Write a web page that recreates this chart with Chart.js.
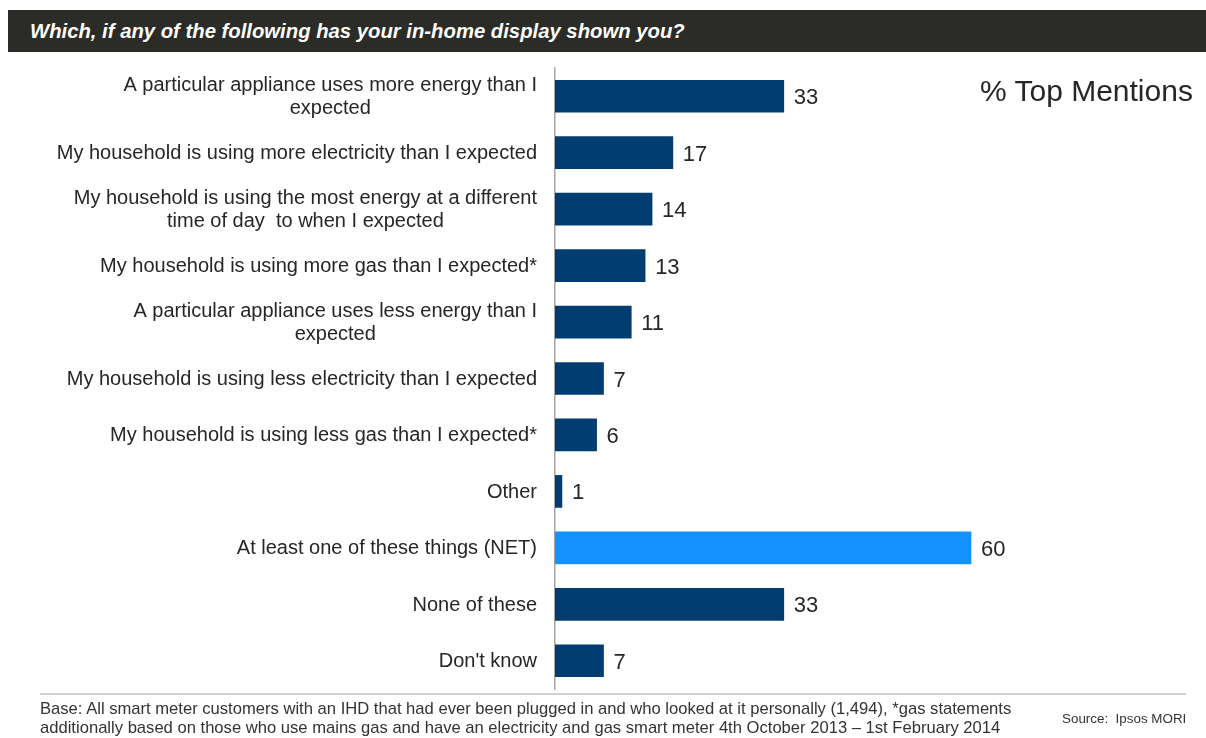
<!DOCTYPE html>
<html>
<head>
<meta charset="utf-8">
<script src="https://cdn.jsdelivr.net/npm/chart.js@4"></script>
<style>
  html, body { margin: 0; padding: 0; background: #fff; }
  #page { position: relative; width: 1206px; height: 738px; overflow: hidden; font-family: 'Liberation Sans', Arial, sans-serif; }
  #header { position: absolute; left: 8px; top: 10px; width: 1198px; height: 42px; background: #2b2b27; }
  #header span { position: absolute; left: 22px; top: 9px; color: #fff; font-weight: bold; font-style: italic; font-size: 20.3px; line-height: 24px; }
  #chart { position: absolute; left: 0; top: 0; }
  #mentions { position: absolute; left: 980px; top: 74px; font-size: 30px; color: #262626; }
  #rule { position: absolute; left: 40px; top: 693px; width: 1146px; height: 2px; background: #d0d0d0; }
  #base { position: absolute; left: 40px; top: 699px; font-size: 16.6px; line-height: 19px; color: #333; white-space: nowrap; }
  #source { position: absolute; left: 1062px; top: 711px; font-size: 13.4px; color: #333; }
</style>
</head>
<body>
<div id="page">
  <div id="header"><span>Which, if any of the following has your in-home display shown you?</span></div>
  <canvas id="chart" width="1206" height="738"></canvas>
  <div id="mentions">% Top Mentions</div>
  <div id="rule"></div>
  <div id="base">Base: All smart meter customers with an IHD that had ever been plugged in and who looked at it personally (1,494), *gas statements<br>additionally based on those who use mains gas and have an electricity and gas smart meter 4th October 2013 – 1st February 2014</div>
  <div id="source">Source:&nbsp; Ipsos MORI</div>
</div>
<script>
// Категории (многострочные подписи — массивы строк)
const categories = [
  ['A particular appliance uses more energy than I', 'expected'],
  ['My household is using more electricity than I expected'],
  ['My household is using the most energy at a different', 'time of day  to when I expected'],
  ['My household is using more gas than I expected*'],
  ['A particular appliance uses less energy than I', 'expected'],
  ['My household is using less electricity than I expected'],
  ['My household is using less gas than I expected*'],
  ['Other'],
  ['At least one of these things (NET)'],
  ['None of these'],
  ["Don't know"]
];
const values = [33, 17, 14, 13, 11, 7, 6, 1, 60, 33, 7];
const netCategory = 'At least one of these things (NET)';

const DARK = '#023d72';
const LIGHT = '#1591ff';
const TEXT = '#262626';

// Подписи категорий: блок выровнен по правому краю, строки по центру
const categoryLabels = {
  id: 'categoryLabels',
  afterDraw(chart) {
    const ctx = chart.ctx;
    const yScale = chart.scales.y;
    const right = chart.chartArea.left - 18;
    ctx.save();
    ctx.font = '20px "Liberation Sans", Arial, sans-serif';
    ctx.fillStyle = TEXT;
    ctx.textAlign = 'center';
    ctx.textBaseline = 'middle';
    categories.forEach((lines, i) => {
      const y = yScale.getPixelForValue(i) + 1;
      const widest = Math.max(...lines.map(l => ctx.measureText(l).width));
      const cx = right - widest / 2;
      lines.forEach((line, j) => {
        ctx.fillText(line, cx, y + (j - (lines.length - 1) / 2) * 23);
      });
    });
    ctx.restore();
  }
};

// Значения справа от столбцов
const valueLabels = {
  id: 'valueLabels',
  afterDatasetsDraw(chart) {
    const ctx = chart.ctx;
    const meta = chart.getDatasetMeta(0);
    ctx.save();
    ctx.font = '22px "Liberation Sans", Arial, sans-serif';
    ctx.fillStyle = TEXT;
    ctx.textAlign = 'left';
    ctx.textBaseline = 'middle';
    meta.data.forEach((bar, i) => {
      ctx.fillText(String(values[i]), bar.x + 10, bar.y + 2);
    });
    ctx.restore();
  }
};

new Chart(document.getElementById('chart'), {
  type: 'bar',
  data: {
    labels: categories,
    datasets: [{
      data: values,
      backgroundColor: categories.map(c => c[0] === netCategory ? LIGHT : DARK),
      barThickness: 32,
      borderWidth: 0
    }]
  },
  options: {
    indexAxis: 'y',
    responsive: false,
    animation: false,
    layout: {
      padding: { left: 555, right: 27, top: 68, bottom: 49 }
    },
    plugins: {
      legend: { display: false },
      tooltip: { enabled: false }
    },
    scales: {
      x: {
        display: false,
        min: 0,
        max: 90
      },
      y: {
        grid: { display: false, drawTicks: false },
        border: { display: true, color: '#a6a6a6', width: 1.5 },
        ticks: { display: false }
      }
    }
  },
  plugins: [categoryLabels, valueLabels]
});
</script>
</body>
</html>
